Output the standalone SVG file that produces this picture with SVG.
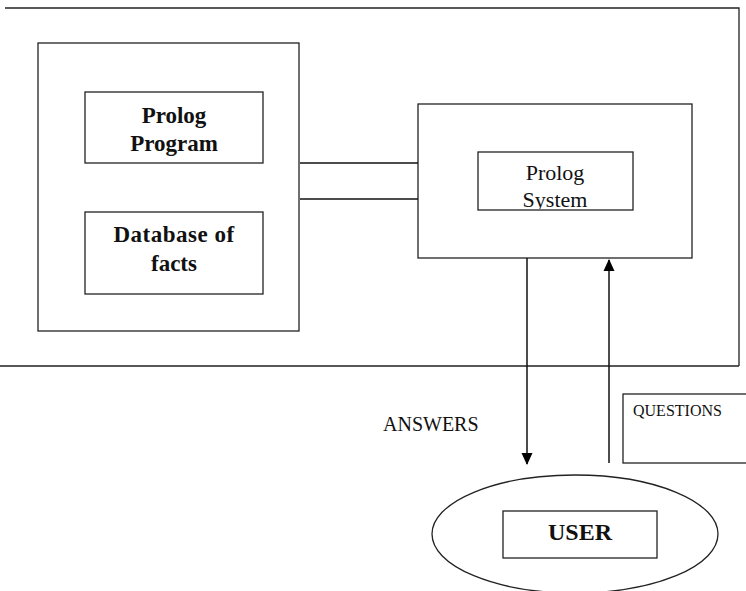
<svg xmlns="http://www.w3.org/2000/svg" width="746" height="591" viewBox="0 0 746 591">
<style>
.b{fill:none;stroke:#222;stroke-width:1.3}
.t{font-family:"Liberation Serif","Times New Roman",serif;fill:#111;text-anchor:middle}
.bold{font-weight:bold;font-size:23px}
.c{stroke:#111;stroke-width:1.5;fill:none}
</style>
<defs>
<marker id="ah" viewBox="0 0 12 12" refX="11" refY="6" markerWidth="12" markerHeight="12" markerUnits="userSpaceOnUse" orient="auto"><path d="M0,0.5 L12,6 L0,11.5 Z" fill="#000"/></marker>
<clipPath id="cl"><rect x="478" y="152" width="155" height="57"/></clipPath>
</defs>
<g id="frame">
<path class="b" d="M5,8 H739 V366 M0,366 H739"/>
</g>
<g id="program-box">
<rect class="b" x="38" y="43" width="261" height="288"/>
</g>
<g id="prolog-program">
<rect class="b" x="85" y="92" width="178" height="71"/>
<text class="t bold" x="174" y="123" font-family="Liberation Serif, serif">Prolog</text>
<text class="t bold" x="174" y="151" font-family="Liberation Serif, serif">Program</text>
</g>
<g id="database">
<rect class="b" x="85" y="212" width="178" height="82"/>
<text class="t bold" x="174" y="242" font-family="Liberation Serif, serif" letter-spacing="0.5">Database of</text>
<text class="t bold" x="174" y="271" font-family="Liberation Serif, serif">facts</text>
</g>
<g id="system-box">
<rect class="b" x="418" y="104" width="274" height="154"/>
</g>
<g id="prolog-system">
<rect class="b" x="478" y="152" width="155" height="58"/>
<g clip-path="url(#cl)">
<text class="t" x="555" y="180" font-size="22" font-family="Liberation Serif, serif">Prolog</text>
<text class="t" x="555" y="207" font-size="22" font-family="Liberation Serif, serif">System</text>
</g>
</g>
<g id="questions">
<rect class="b" x="623" y="394" width="130" height="69"/>
<text class="t" x="633" y="416" font-size="16" font-family="Liberation Serif, serif" style="text-anchor:start">QUESTIONS</text>
</g>
<g id="answers-label">
<text class="t" x="383" y="431" font-size="20" font-family="Liberation Serif, serif" style="text-anchor:start">ANSWERS</text>
</g>
<g id="user">
<ellipse class="b" cx="575" cy="534" rx="143" ry="59" stroke-width="1"/>
<rect class="b" x="503" y="511" width="154" height="47"/>
<text class="t" x="580" y="540" font-size="24" font-weight="bold" font-family="Liberation Serif, serif">USER</text>
</g>
<g id="connectors">
<line class="c" x1="300" y1="163" x2="418" y2="163"/>
<line class="c" x1="300" y1="199" x2="418" y2="199"/>
<line class="c" x1="527" y1="258" x2="527" y2="464" marker-end="url(#ah)"/>
<line class="c" x1="609" y1="463" x2="609" y2="260" marker-end="url(#ah)"/>
</g>
</svg>
